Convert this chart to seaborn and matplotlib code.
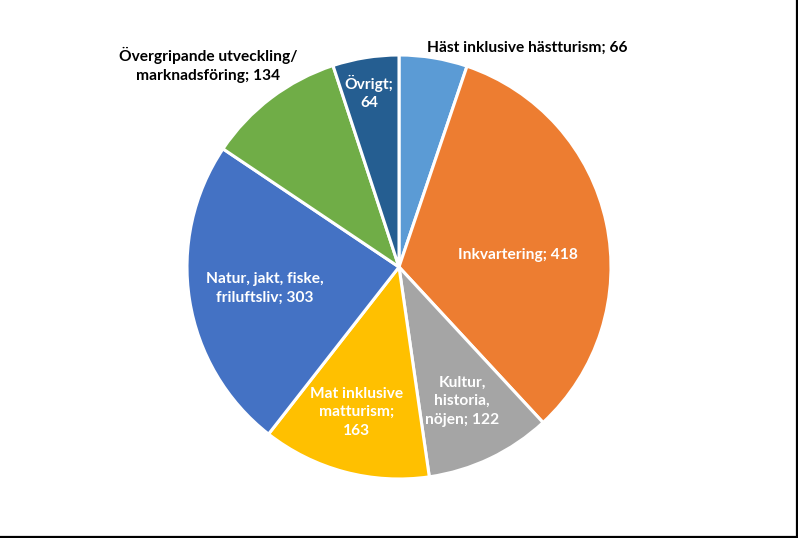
import numpy as np
import matplotlib
matplotlib.use("Agg")
import matplotlib.pyplot as plt
from matplotlib.lines import Line2D
import seaborn as sns

categories = ["Häst inklusive hästturism", "Inkvartering", "Kultur, historia, nöjen",
              "Mat inklusive matturism", "Natur, jakt, fiske, friluftsliv",
              "Övergripande utveckling/marknadsföring", "Övrigt"]
values = [66, 418, 122, 163, 303, 134, 64]
colors = ["#5B9BD5", "#ED7D31", "#A5A5A5", "#FFC000", "#4472C4", "#70AD47", "#255E91"]

sns.set_style("white")
plt.rcParams['font.family'] = ['Lato', 'DejaVu Sans']

W, H = 798, 538
fig = plt.figure(figsize=(W / 100, H / 100), dpi=100)
ax = fig.add_axes([0, 0, 1, 1])

cx, cy, R = 399, H - 267, 212
wedges, _ = ax.pie(values, colors=sns.color_palette(colors), startangle=90, counterclock=False,
                   center=(cx, cy), radius=R, frame=True,
                   wedgeprops=dict(edgecolor="white", linewidth=2.2))
ax.set_xlim(0, W)
ax.set_ylim(0, H)
ax.set_aspect("equal")
ax.axis("off")

# labels: (text, radius fraction, pixel offset (dx, dy down), color)
labels = [
    ("Häst inklusive hästturism; 66", None, (0, 0), "black"),
    ("Inkvartering; 418", 0.57, (1, 13), "white"),
    ("Kultur,\nhistoria,\nnöjen; 122", 0.68, (1, 4), "white"),
    ("Mat inklusive\nmatturism;\n163", 0.67, (-6, 8), "white"),
    ("Natur, jakt, fiske,\nfriluftsliv; 303", 0.64, (0, 0), "white"),
    ("Övergripande utveckling/\nmarknadsföring; 134", None, (0, 0), "black"),
    ("Övrigt;\n64", 0.83, (-2, -1), "white"),
]
outside_pos = {0: (527, H - 48), 5: (208, H - 65)}
for i, (w, (txt, rf, off, col)) in enumerate(zip(wedges, labels)):
    if rf is None:
        x, y = outside_pos[i]
    else:
        ang = np.deg2rad((w.theta1 + w.theta2) / 2)
        x = cx + rf * R * np.cos(ang) + off[0]
        y = cy + rf * R * np.sin(ang) - off[1]
    ax.text(x, y, txt, ha="center", va="center", color=col, fontsize=11.2,
            fontweight="bold", linespacing=1.4)

fig.add_artist(Line2D([0, 1], [1 / H, 1 / H], color="black", lw=1.6, transform=fig.transFigure))
fig.add_artist(Line2D([1 - 1.5 / W, 1 - 1.5 / W], [0, 1], color="black", lw=1.6, transform=fig.transFigure))

fig.savefig("out.png", dpi=100)
